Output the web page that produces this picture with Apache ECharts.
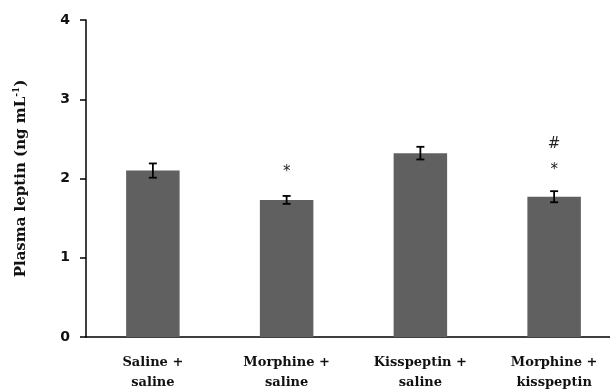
<!DOCTYPE html>
<html>
<head>
<meta charset="utf-8">
<script src="https://cdn.jsdelivr.net/npm/echarts@6/dist/echarts.min.js"></script>
<style>html,body{margin:0;padding:0;background:#fff;}#c{width:610px;height:389px;}</style>
</head>
<body>
<div id="c"></div>
<script>
const categories = ['Saline +\nsaline', 'Morphine +\nsaline', 'Kisspeptin +\nsaline', 'Morphine +\nkisspeptin'];
const means = [2.10, 1.73, 2.32, 1.77];
const errors = [0.09, 0.05, 0.08, 0.07];
const yTicks = [0, 1, 2, 3, 4];
// significance marks: [categoryIndex, yValue, symbol]
const marks = [[1, 2.08, '*'], [3, 2.10, '*'], [3, 2.43, '#']];

const chart = echarts.init(document.getElementById('c'));
chart.setOption({
  animation: false,
  grid: { left: 86, top: 20, bottom: 52, right: -11, outerBoundsMode: 'none', containLabel: false },
  xAxis: {
    type: 'category',
    data: categories,
    axisLine: { lineStyle: { color: '#000', width: 1.5 } },
    axisTick: { show: false },
    axisLabel: { color: '#111', fontFamily: 'DejaVu Serif', fontWeight: 'bold', fontSize: 13, lineHeight: 20, margin: 16 }
  },
  yAxis: {
    type: 'value', min: yTicks[0], max: yTicks[yTicks.length - 1], interval: 1,
    splitLine: { show: false },
    axisLine: { show: true, lineStyle: { color: '#000', width: 1.5 } },
    axisTick: { show: true, length: 6, lineStyle: { color: '#000', width: 1.5 } },
    axisLabel: { color: '#111', fontFamily: 'DejaVu Sans', fontWeight: 'bold', fontSize: 14, margin: 16 },
    name: '{a|Plasma leptin (ng mL}{s|-1}{a|)}',
    nameLocation: 'middle', nameRotate: 90, nameGap: 56,
    nameTextStyle: {
      rich: {
        a: { fontFamily: 'DejaVu Serif', fontWeight: 'bold', fontSize: 15, color: '#111' },
        s: { fontFamily: 'DejaVu Serif', fontWeight: 'bold', fontSize: 9, color: '#111', verticalAlign: 'top', padding: [0, 0, 9, 0] }
      }
    }
  },
  series: [
    {
      type: 'bar', data: means, barWidth: '40%',
      itemStyle: { color: '#606060' }
    },
    {
      type: 'custom',
      data: means.map((m, i) => [i, m - errors[i], m + errors[i]]),
      z: 5,
      renderItem: function (params, api) {
        const x = api.value(0);
        const lo = api.coord([x, api.value(1)]);
        const hi = api.coord([x, api.value(2)]);
        const w = 4;
        const st = { stroke: '#000', lineWidth: 1.8 };
        return { type: 'group', children: [
          { type: 'line', shape: { x1: lo[0], y1: lo[1], x2: hi[0], y2: hi[1] }, style: st },
          { type: 'line', shape: { x1: lo[0] - w, y1: lo[1], x2: lo[0] + w, y2: lo[1] }, style: st },
          { type: 'line', shape: { x1: hi[0] - w, y1: hi[1], x2: hi[0] + w, y2: hi[1] }, style: st }
        ]};
      }
    },
    {
      type: 'custom',
      data: marks,
      z: 6,
      renderItem: function (params, api) {
        const p = api.coord([api.value(0), api.value(1)]);
        return { type: 'text', x: p[0], y: p[1], style: { text: marks[params.dataIndex][2], fill: '#222', font: '15px DejaVu Sans', align: 'center', verticalAlign: 'middle' } };
      }
    }
  ]
});
</script>
</body>
</html>
